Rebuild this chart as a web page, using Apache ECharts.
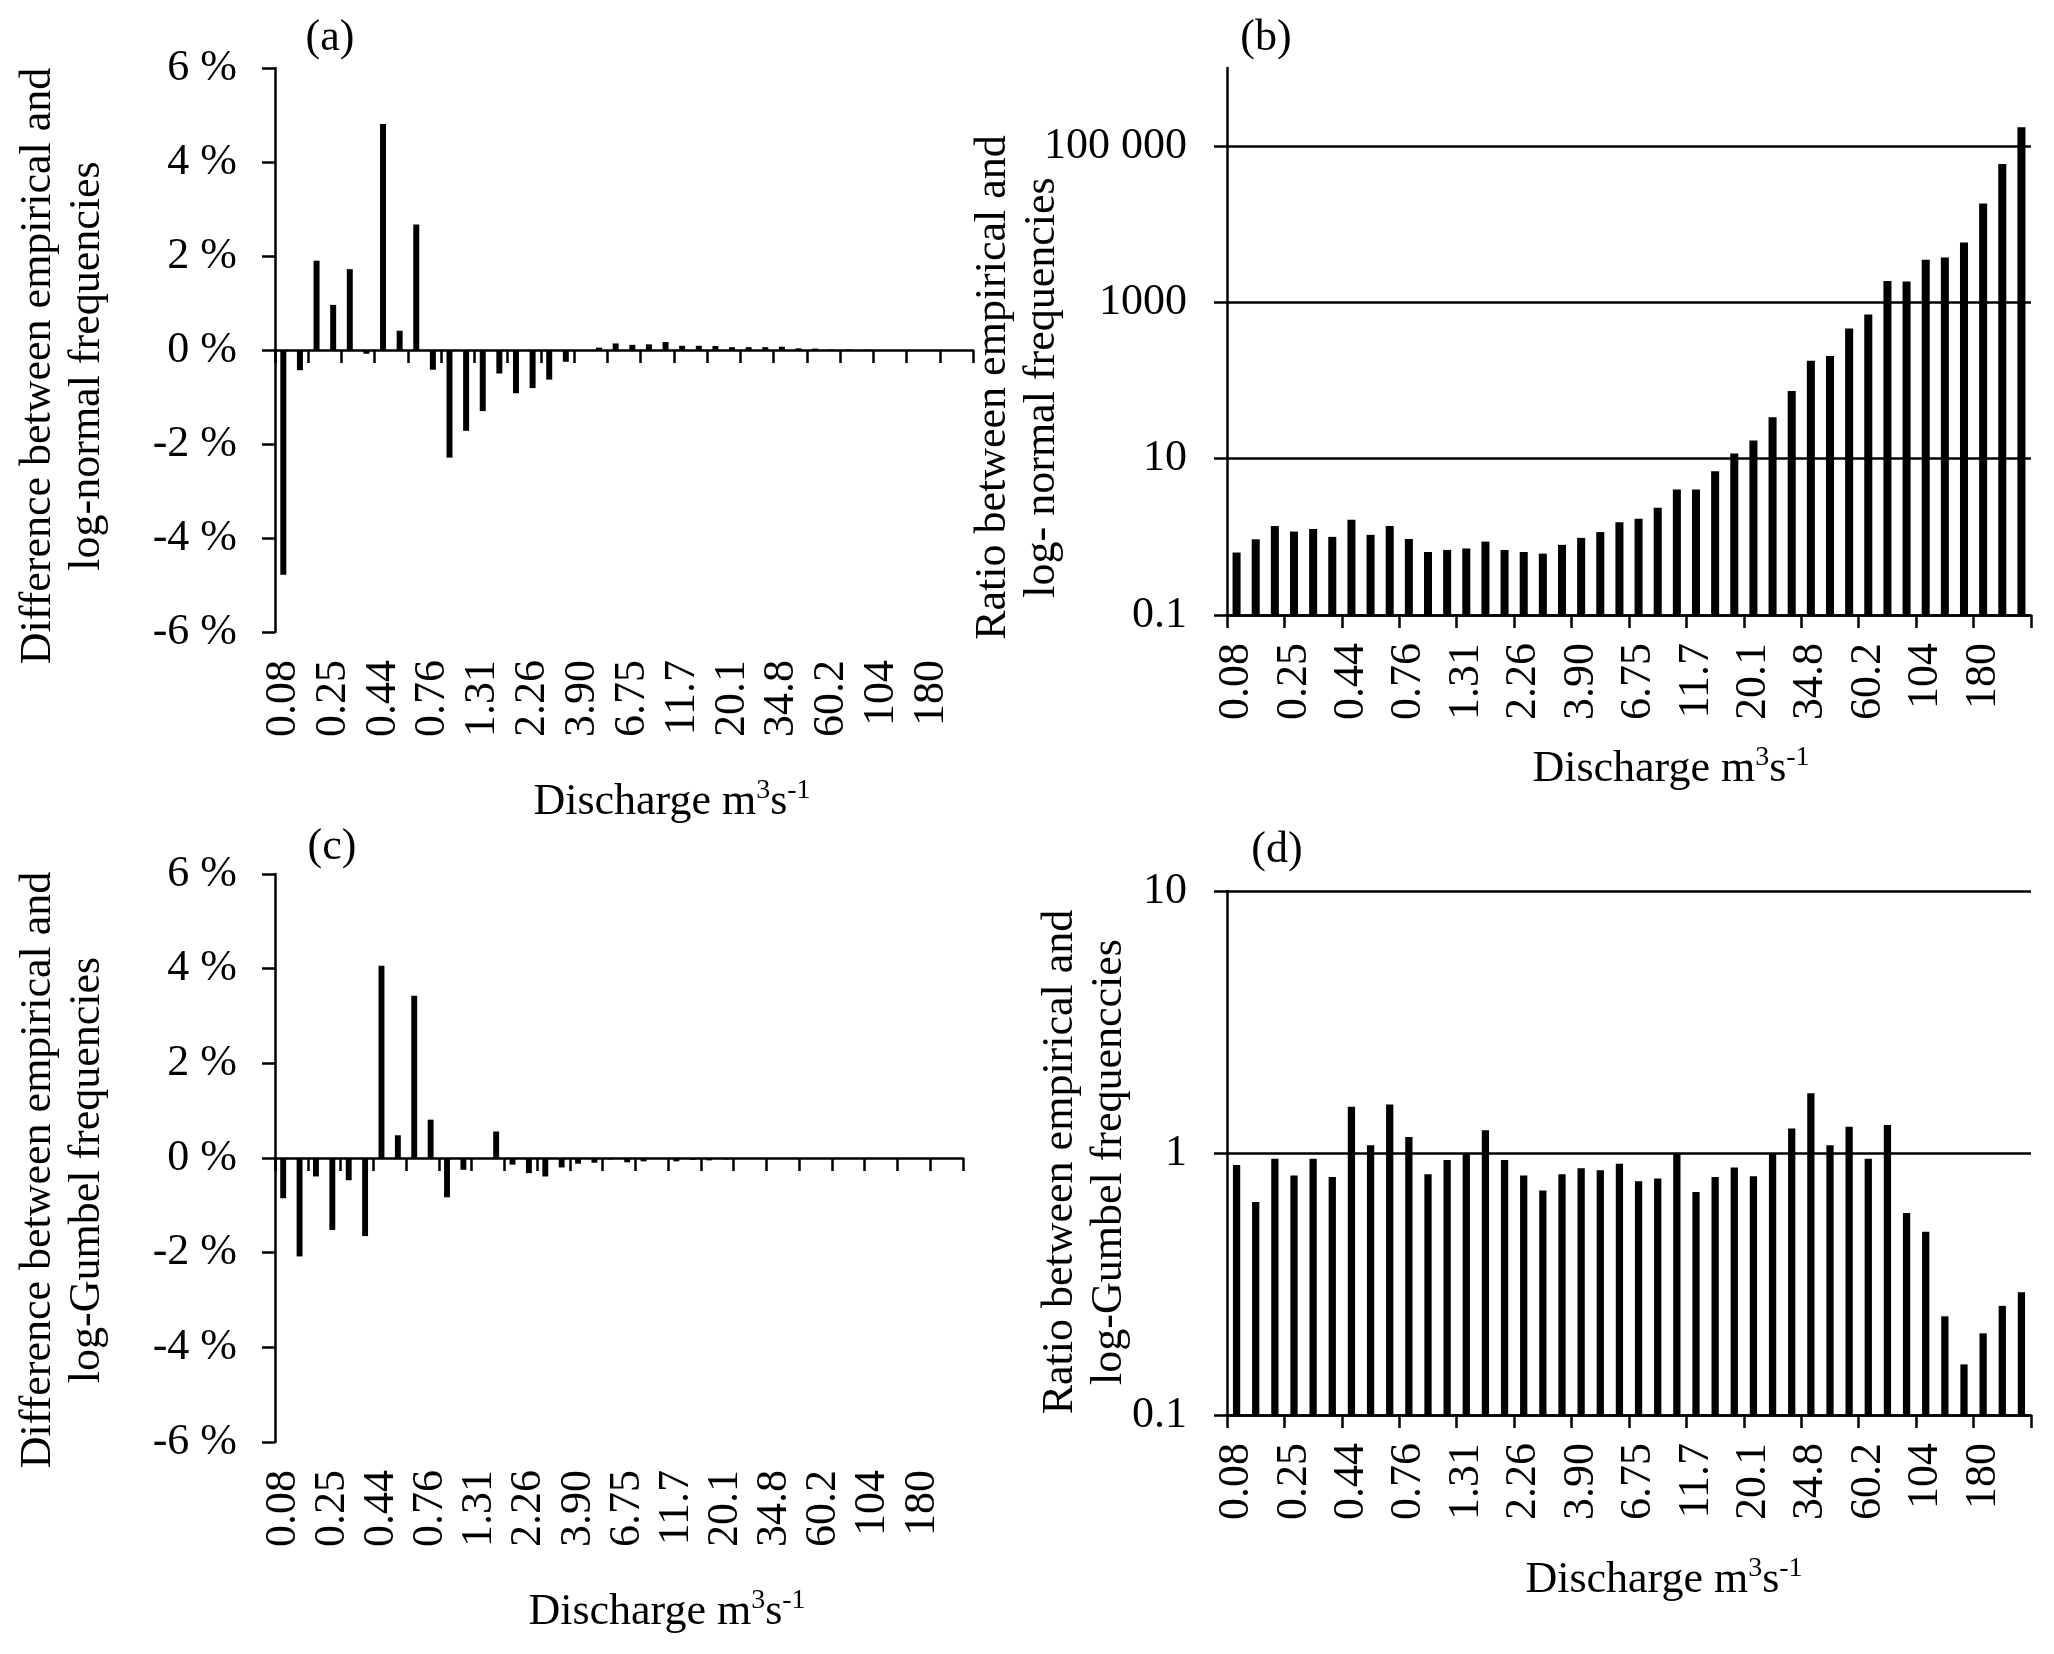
<!DOCTYPE html>
<html>
<head>
<meta charset="utf-8">
<script src="https://cdn.jsdelivr.net/npm/echarts@6/dist/echarts.min.js"></script>
<style>html,body{margin:0;padding:0;background:#fff}#c{width:2054px;height:1654px}</style>
</head>
<body>
<div id="c"></div>
<script>
// Discharge classes (m3 s-1); every third one is labelled on the axis
const categories = ['0.08','0.12','0.17','0.25','0.30','0.36','0.44','0.52','0.63','0.76','0.91','1.09','1.31','1.57','1.89','2.26','2.72','3.26','3.90','4.69','5.63','6.75','8.10','9.72','11.7','14.0','16.8','20.1','24.2','29.0','34.8','41.8','50.1','60.2','72.2','86.7','104','125','150','180','216','260'];

// (a) difference empirical - log-normal (%)
const diffLogNormal = [-4.78,-0.43,1.90,0.96,1.72,-0.08,4.81,0.41,2.67,-0.42,-2.29,-1.72,-1.30,-0.50,-0.92,-0.81,-0.63,-0.25,0,0.05,0.14,0.11,0.12,0.17,0.09,0.09,0.085,0.06,0.06,0.06,0.07,0.035,0.03,0.01,0.01,0.005,0,0,0,0,0,0];

// (b) ratio empirical / log-normal
const ratioLogNormal = [0.63,0.93,1.38,1.17,1.26,1.0,1.66,1.06,1.38,0.94,0.64,0.68,0.71,0.87,0.68,0.64,0.61,0.79,0.97,1.15,1.54,1.71,2.36,4.04,4.04,6.9,11.7,17.1,34,73.6,179,206,464,703,1877,1850,3520,3745,5840,18500,59300,174000];

// (c) difference empirical - log-Gumbel (%)
const diffLogGumbel = [-0.85,-2.08,-0.39,-1.52,-0.47,-1.65,4.06,0.48,3.43,0.81,-0.83,-0.25,0,0.56,-0.14,-0.32,-0.39,-0.20,-0.12,-0.10,-0.03,-0.09,-0.07,-0.02,-0.07,-0.04,-0.05,-0.03,-0.02,-0.02,-0.01,-0.01,0,0,0,0,0,0,0,0,0,0];

// (d) ratio empirical / log-Gumbel
const ratioLogGumbel = [0.90,0.65,0.95,0.82,0.95,0.81,1.50,1.07,1.53,1.15,0.83,0.94,1.0,1.22,0.94,0.82,0.72,0.83,0.875,0.86,0.91,0.78,0.80,1.0,0.71,0.81,0.88,0.815,1.0,1.24,1.69,1.07,1.26,0.95,1.28,0.59,0.50,0.238,0.156,0.205,0.261,0.294];

const ratioLogNormalTicks = [0.1, 10, 1000, 100000];
const ratioLogNormalTickLabels = ['0.1', '10', '1000', '100 000'];
const ratioLogGumbelTicks = [0.1, 1, 10];
const ratioLogGumbelTickLabels = ['0.1', '1', '10'];

const FONT = 'Liberation Serif';
const FS = 44;
const txt = {fontFamily: FONT, fontSize: FS, color: '#000'};
const lineStyle = {color: '#000', width: 2.5};

const xName = 'Discharge m{sup|3}s{sup|-1}';
function xNameStyle(shift) {
  return Object.assign({}, txt, {
    lineHeight: 50,
    padding: [0, 0, 0, shift * 2],
    rich: {sup: {fontFamily: FONT, fontSize: 28, color: '#000', verticalAlign: 'top', lineHeight: 50}}
  });
}

function zeroAxis(grid) {
  return {type: 'category', gridIndex: grid, data: categories, boundaryGap: true,
    axisLine: {show: true, onZero: true, lineStyle: lineStyle},
    axisTick: {show: true, length: 13, lineStyle: lineStyle},
    axisLabel: {show: false}, splitLine: {show: false}};
}
function labelAxis(grid, gap, shift, withLine) {
  return {type: 'category', gridIndex: grid, data: categories, position: 'bottom', boundaryGap: true,
    axisLine: {show: !!withLine, onZero: false, lineStyle: lineStyle},
    axisTick: {show: !!withLine, length: 13, lineStyle: lineStyle},
    axisLabel: Object.assign({}, txt, {interval: 2, rotate: 90, margin: 28}),
    splitLine: {show: false},
    name: xName, nameLocation: 'middle', nameGap: gap, nameMoveOverlap: false,
    nameTextStyle: xNameStyle(shift)};
}
function yNameStyle(down) {
  return Object.assign({}, txt, {lineHeight: 49, padding: [0, down * 2, 0, 0]});
}
function diffAxis(grid, name, gap, down) {
  return {type: 'value', gridIndex: grid, min: -6, max: 6, interval: 2,
    axisLine: {show: true, lineStyle: lineStyle},
    axisTick: {show: true, length: 13, lineStyle: lineStyle},
    axisLabel: Object.assign({}, txt, {margin: 38, formatter: v => v + ' %'}),
    splitLine: {show: false},
    name: name, nameLocation: 'middle', nameGap: gap, nameRotate: 90, nameMoveOverlap: false,
    nameTextStyle: yNameStyle(down)};
}
function ratioAxis(grid, min, max, ticks, labels, name, gap, down) {
  return {type: 'log', gridIndex: grid, min: min, max: max, logBase: 10, startValue: min,
    axisLine: {show: true, lineStyle: lineStyle},
    axisTick: {show: true, length: 13, lineStyle: lineStyle, customValues: ticks},
    axisLabel: Object.assign({}, txt, {margin: 40, customValues: ticks,
      formatter: v => { const i = ticks.findIndex(t => Math.abs(Math.log10(t) - Math.log10(v)) < 1e-6); return i >= 0 ? labels[i] : ''; }}),
    splitLine: {show: true, lineStyle: lineStyle},
    name: name, nameLocation: 'middle', nameGap: gap, nameRotate: 90, nameMoveOverlap: false,
    nameTextStyle: yNameStyle(down)};
}
function bars(xi, yi, data, w) {
  return {type: 'bar', xAxisIndex: xi, yAxisIndex: yi, data: data, barWidth: w,
    itemStyle: {color: '#000'}, silent: true, animation: false};
}
function label(t, x, y) {
  return {type: 'text', x: x, y: y, style: {text: t, fontFamily: FONT, fontSize: FS, fill: '#000', align: 'center', verticalAlign: 'middle'}};
}

const chart = echarts.init(document.getElementById('c'), null, {renderer: 'canvas'});
chart.setOption({
  backgroundColor: '#fff',
  animation: false,
  grid: [
    {left: 275, top: 68, width: 698, height: 564},
    {left: 1227, top: 68, width: 804, height: 547},
    {left: 275, top: 874, width: 688, height: 568},
    {left: 1227, top: 891, width: 804, height: 524}
  ],
  xAxis: [
    zeroAxis(0),
    labelAxis(0, 145, 48, false),
    labelAxis(1, 129, 42, true),
    zeroAxis(2),
    labelAxis(2, 145, 48, false),
    labelAxis(3, 140, 35, true)
  ],
  yAxis: [
    diffAxis(0, 'Difference between empirical and\nlog-normal frequencies', 163, 16),
    ratioAxis(1, 0.1, 1000000, ratioLogNormalTicks, ratioLogNormalTickLabels, 'Ratio between empirical and\nlog- normal frequencies', 160, 46),
    diffAxis(2, 'Difference between empirical and\nlog-Gumbel frequencies', 163, 12),
    ratioAxis(3, 0.1, 10, ratioLogGumbelTicks, ratioLogGumbelTickLabels, 'Ratio between empirical and\nlog-Gumbel frequenccies', 93, 9)
  ],
  series: [
    bars(0, 0, diffLogNormal, '36%'),
    bars(2, 1, ratioLogNormal, '42%'),
    bars(3, 2, diffLogGumbel, '36%'),
    bars(5, 3, ratioLogGumbel, '38%')
  ],
  graphic: [
    label('(a)', 330, 38),
    label('(b)', 1266, 38),
    label('(c)', 332, 847),
    label('(d)', 1277, 850)
  ]
});
</script>
</body>
</html>
